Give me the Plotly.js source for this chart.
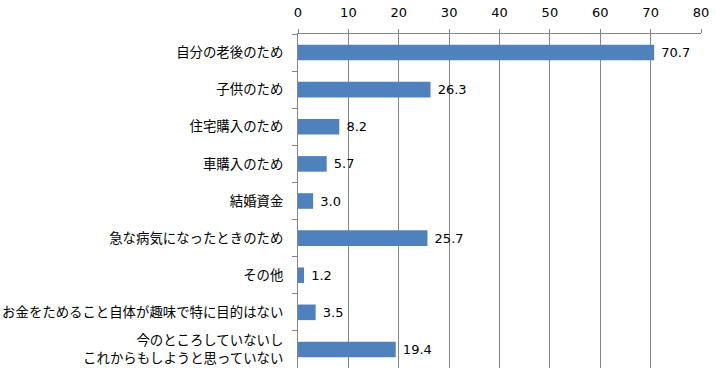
<!DOCTYPE html>
<html><head><meta charset="utf-8">
<script src="https://cdn.plot.ly/plotly-3.0.1.min.js"></script>
<style>html,body{margin:0;padding:0;background:#fff}#c{width:716px;height:377px}</style>
</head><body><div id="c"></div>
<script>
const categories = [
  "自分の老後のため",
  "子供のため",
  "住宅購入のため",
  "車購入のため",
  "結婚資金",
  "急な病気になったときのため",
  "その他",
  "お金をためること自体が趣味で特に目的はない",
  "今のところしていないし<br>これからもしようと思っていない"
];
const values = [70.7, 26.3, 8.2, 5.7, 3.0, 25.7, 1.2, 3.5, 19.4];
const xTicks = [0, 10, 20, 30, 40, 50, 60, 70, 80];

const trace = {
  type: 'bar',
  orientation: 'h',
  y: categories,
  x: values,
  width: 0.42,
  marker: {color: '#4F81BD'},
  text: values.map(v => ' ' + v.toFixed(1)),
  textposition: 'outside',
  cliponaxis: false,
  textfont: {family: 'DejaVu Sans', size: 13, color: '#000'},
  hoverinfo: 'none'
};
const layout = {
  width: 716, height: 377,
  margin: {l: 298, r: 15, t: 34, b: 9},
  paper_bgcolor: '#fff', plot_bgcolor: '#fff',
  showlegend: false,
  xaxis: {
    side: 'top', range: [0, 80], tickvals: xTicks, ticktext: xTicks.map(String),
    showgrid: true, gridcolor: '#868686', gridwidth: 1,
    showline: true, linecolor: '#868686', linewidth: 1,
    ticks: 'outside', ticklen: 4, tickcolor: '#868686',
    ticklabelstandoff: 7,
    tickfont: {family: 'DejaVu Sans', size: 13, color: '#000'},
    zeroline: false, fixedrange: true
  },
  yaxis: {
    autorange: 'reversed', type: 'category',
    showline: true, linecolor: '#868686', linewidth: 1,
    ticks: 'outside', ticklen: 5, tickcolor: '#868686', tickson: 'boundaries',
    showgrid: false,
    tickfont: {family: 'Noto Sans CJK JP', size: 13.4, color: '#000'},
    ticklabelstandoff: 11
  },
  bargap: 0.58
};
Plotly.newPlot('c', [trace], layout, {staticPlot: true});
</script></body></html>
